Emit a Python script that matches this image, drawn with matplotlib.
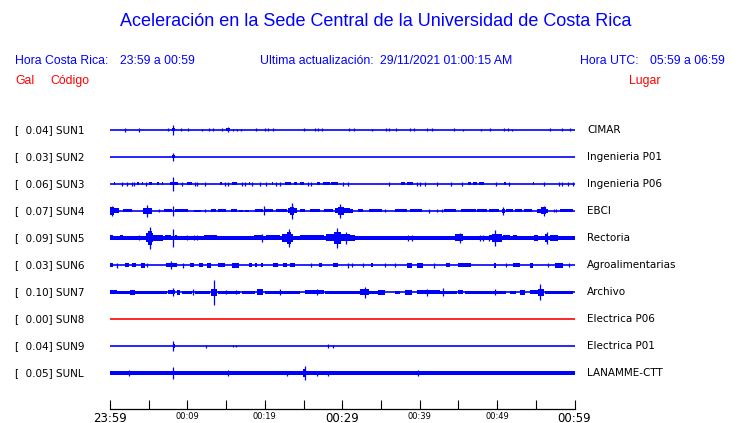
import matplotlib.pyplot as plt
from matplotlib.transforms import blended_transform_factory

# station info
codes = ['SUN1', 'SUN2', 'SUN3', 'SUN4', 'SUN5', 'SUN6', 'SUN7', 'SUN8', 'SUN9', 'SUNL']
peaks = [0.04, 0.03, 0.06, 0.07, 0.09, 0.03, 0.10, 0.00, 0.04, 0.05]
places = ['CIMAR', 'Ingenieria P01', 'Ingenieria P06', 'EBCI', 'Rectoria', 'Agroalimentarias',
          'Archivo', 'Electrica P06', 'Electrica P01', 'LANAMME-CTT']
# half thickness of the background noise band (pixels)
noise = [0.0, 0.0, 0.0, 0.0, 1.7, 0.0, 0.0, 0.0, 0.0, 2.2]

time_ticks = [0, 10, 20, 30, 40, 50, 60]
time_labels = ['23:59', '00:09', '00:19', '00:29', '00:39', '00:49', '00:59']

# spikes: (minute, half amplitude px); bursts: (start min, end min, half amplitude px)
sun1_spikes = [(2.0, 2), (3.7, 2), (7.5, 1.5), (8.2, 5), (9.2, 1.5), (10.1, 1.5), (11.9, 1), (12.8, 1.5),
               (13.3, 1.5), (14.5, 1.5), (15.2, 2.5), (15.9, 1), (16.4, 1), (16.9, 1), (18.9, 1.5),
               (20.0, 1.5), (20.4, 1.5), (21.1, 1.5), (25.1, 1.5), (26.5, 1.5), (26.9, 1.5), (27.4, 1.5),
               (30.9, 1.5), (31.5, 1.5), (33.8, 1), (35.7, 1.5), (36.0, 1.5), (36.9, 1.5), (38.8, 1.5),
               (39.3, 1.5), (40.9, 1.5), (41.6, 1.5), (44.4, 1.5), (45.6, 1), (47.9, 1), (49.1, 1.5),
               (50.9, 1.5), (51.4, 1.5), (51.9, 1), (56.8, 1.5), (58.4, 1.5), (59.4, 1.5)]
sun1_bursts = [(8.0, 8.4, 1.5), (15.0, 15.5, 1.5)]

sun2_spikes = [(8.2, 4)]
sun2_bursts = [(8.05, 8.35, 1.5)]

sun3_spikes = [(1.5, 2), (2.2, 2), (2.8, 2), (3.1, 2), (4.6, 2), (8.2, 7), (9.3, 2), (11.0, 2), (11.3, 2),
               (12.3, 2), (14.9, 2), (15.2, 2), (17.1, 2), (17.5, 2), (18.4, 2), (19.4, 2), (20.1, 2),
               (21.5, 2), (22.0, 2), (25.6, 2), (25.9, 2), (30.1, 2), (30.8, 2), (36.1, 2), (39.6, 2),
               (40.0, 2), (40.7, 2), (42.3, 2), (44.0, 2), (45.5, 2), (49.9, 2), (51.6, 2), (56.1, 2),
               (58.0, 2), (58.4, 2), (59.1, 2), (59.8, 2)]
sun3_bursts = [(0.5, 0.7, 1.5), (3.5, 3.7, 1.5), (4.1, 4.3, 1.5), (5.1, 5.4, 1.5), (6.1, 6.3, 1.5),
               (6.7, 6.9, 1.5), (7.8, 8.8, 1.5), (10.0, 10.6, 1.5), (14.2, 14.5, 1.5), (15.7, 16.4, 1.5),
               (17.9, 18.1, 1.5), (20.9, 21.1, 1.5), (22.6, 23.4, 1.5), (23.8, 24.2, 1.5), (24.5, 25.0, 1.5),
               (26.7, 27.1, 1.5), (27.5, 28.4, 1.5), (28.6, 29.5, 1.5), (37.6, 38.1, 1.5), (38.4, 39.1, 1.5),
               (46.3, 46.6, 1.5), (46.9, 47.4, 1.5), (47.7, 48.3, 1.5), (50.9, 51.1, 1.5), (54.6, 54.8, 1.5)]

sun4_spikes = [(0.2, 5), (4.75, 6), (6.3, 1.5), (8.2, 5), (12.3, 1.5), (19.9, 4.5), (23.5, 8), (29.7, 7),
               (35.5, 1.5), (41.2, 2), (42.3, 1.5), (42.9, 1.5), (50.8, 4), (56.0, 5), (57.4, 1.5), (57.6, 1.5)]
sun4_bursts = [(0.0, 0.5, 4), (0.5, 1.1, 2.5), (1.7, 2.8, 1.5), (4.2, 5.4, 3), (7.0, 8.0, 1.5),
               (8.4, 10.1, 1.5), (10.9, 11.8, 1.2), (13.0, 13.7, 1.5), (14.0, 15.0, 1.5), (15.6, 16.4, 1.5),
               (16.7, 17.2, 1.2), (17.5, 18.0, 1.2), (18.7, 19.8, 1.5), (20.0, 21.1, 1.5), (21.5, 22.8, 1.5),
               (23.0, 24.1, 2.5), (23.3, 23.8, 4), (24.5, 25.2, 1.5), (25.8, 27.1, 1.5), (27.6, 28.8, 1.5),
               (29.1, 31.0, 2.5), (29.4, 30.2, 4), (31.0, 31.4, 2), (32.0, 32.7, 1.5), (33.5, 35.1, 1.5),
               (36.8, 38.3, 1.5), (38.8, 40.3, 1.5), (43.2, 44.7, 1.5), (45.3, 47.3, 1.5), (47.4, 48.7, 1.5),
               (48.9, 50.2, 1.5), (50.6, 51.0, 2), (51.2, 52.1, 1.5), (52.3, 53.2, 1.5), (53.5, 54.5, 1.5),
               (55.1, 56.6, 2), (55.7, 56.3, 3.5), (58.1, 59.8, 1.5)]

sun5_spikes = [(3.8, 2.5), (5.2, 10.5), (8.2, 8.7), (9.9, 2.5), (10.9, 2.5), (11.3, 2.5), (19.6, 4),
               (23.1, 9), (29.3, 10), (30.5, 6), (38.5, 3), (39.0, 3), (45.2, 5), (47.8, 3), (48.2, 3),
               (49.0, 3), (49.7, 8), (56.4, 6)]
sun5_bursts = [(0.0, 0.4, 2.5), (1.3, 1.7, 2.5), (4.7, 5.6, 4.5), (4.9, 5.4, 7), (5.6, 6.9, 3), (7.1, 7.9, 2.5),
               (8.4, 8.7, 2.5), (12.1, 13.8, 2.5), (18.6, 19.8, 2.5), (20.2, 22.0, 2.5), (22.2, 23.7, 4),
               (22.8, 23.4, 6), (24.5, 27.6, 2.5), (27.9, 31.0, 3.5), (28.9, 29.8, 6), (31.0, 31.6, 3),
               (44.6, 45.6, 3.5), (48.9, 49.3, 2.5), (49.4, 50.6, 4), (50.8, 51.7, 2.5), (52.1, 52.6, 2.5),
               (54.8, 55.3, 3), (56.2, 56.6, 4), (56.8, 57.9, 3), (57.9, 60.0, 2.3)]

sun6_spikes = [(0.9, 2.5), (4.8, 2), (7.9, 4), (9.4, 2.5), (25.9, 2), (30.8, 2.5), (31.2, 2), (32.7, 2),
               (35.5, 2), (36.8, 2), (41.8, 2.5), (51.2, 2), (56.6, 2), (59.3, 2)]
sun6_bursts = [(0.0, 0.4, 2), (1.9, 2.4, 2), (2.8, 3.4, 2), (4.0, 4.5, 2.5), (7.2, 8.6, 2), (10.3, 10.8, 2),
               (11.5, 12.0, 2), (12.5, 13.1, 2.5), (13.9, 14.9, 2), (15.8, 16.6, 2.5), (17.9, 18.3, 2),
               (18.7, 19.0, 2), (19.5, 19.8, 2), (21.1, 21.7, 2), (22.3, 22.8, 2), (23.3, 23.9, 2),
               (27.0, 27.4, 2), (28.8, 29.4, 2), (33.7, 34.0, 2), (38.3, 39.0, 2.5), (39.7, 40.4, 2.5),
               (43.4, 43.9, 2), (44.9, 45.4, 2), (45.4, 46.6, 2), (49.6, 49.9, 2.5), (52.1, 53.0, 2),
               (54.3, 54.7, 2.5), (57.5, 58.5, 2.5)]

sun7_spikes = [(8.2, 4), (10.7, 3), (13.4, 12.5), (15.0, 2), (16.3, 2), (22.0, 3), (26.7, 3), (32.9, 5.5),
               (41.0, 3.5), (43.0, 4), (49.7, 3), (55.5, 8)]
sun7_bursts = [(0.0, 0.9, 2), (0.9, 2.6, 1.5), (2.6, 3.2, 2.5), (3.2, 7.3, 1.5), (7.5, 8.4, 2), (8.7, 9.0, 2.5),
               (9.3, 10.6, 1.5), (11.0, 12.9, 1.5), (13.1, 13.8, 3.5), (14.0, 16.8, 1.5), (17.0, 18.7, 1.5),
               (19.0, 19.8, 3), (20.0, 24.5, 1.5), (25.2, 27.6, 2), (27.8, 32.3, 1.5), (32.3, 33.4, 3),
               (33.4, 34.6, 1.5), (34.6, 35.5, 2.5), (36.8, 37.5, 1.5), (38.1, 39.0, 2.5), (39.6, 42.6, 2),
               (42.6, 44.8, 1.5), (45.0, 45.6, 2), (45.9, 51.2, 1.5), (51.7, 52.5, 1.5), (53.0, 53.6, 2.5),
               (54.3, 55.3, 2), (55.3, 56.0, 3.5), (56.2, 59.8, 1.5)]

sun8_spikes = []
sun8_bursts = []

sun9_spikes = [(8.2, 5), (12.4, 1.5), (15.9, 1), (16.3, 1), (28.2, 2), (28.8, 1.5)]
sun9_bursts = [(8.1, 8.35, 2), (28.1, 28.3, 1.5)]

sunl_spikes = [(2.4, 3), (8.2, 5.7), (15.3, 3), (22.8, 2.5), (25.2, 7), (26.7, 2.5), (28.2, 2.5), (39.8, 3)]
sunl_bursts = [(24.9, 25.3, 4)]

all_spikes = [sun1_spikes, sun2_spikes, sun3_spikes, sun4_spikes, sun5_spikes,
              sun6_spikes, sun7_spikes, sun8_spikes, sun9_spikes, sunl_spikes]
all_bursts = [sun1_bursts, sun2_bursts, sun3_bursts, sun4_bursts, sun5_bursts,
              sun6_bursts, sun7_bursts, sun8_bursts, sun9_bursts, sunl_bursts]

BLUE = '#0000ff'
RED = '#ff0000'
W, H = 740, 423
PX = 1 / 27.0  # one pixel in trace units (traces are 27 px apart)

fig = plt.figure(figsize=(W / 100, H / 100), dpi=100)

ax = fig.add_axes([110 / W, 1 - 386.5 / H, 464.5 / W, 270 / H])
ax.set_xlim(0, 60)
ax.set_ylim(len(codes) - 0.5, -0.5)
ax.axis('off')

for i in range(len(codes)):
    col = RED if peaks[i] == 0 else BLUE
    ax.hlines(i, 0, 60, color=col, lw=1.2)
    if noise[i] > 0:
        ax.bar(0, 2 * noise[i] * PX, width=60, bottom=i - noise[i] * PX, align='edge', color=col, lw=0)
    for t0, t1, a in all_bursts[i]:
        ax.bar(t0, 2 * a * PX, width=t1 - t0, bottom=i - a * PX, align='edge', color=col, lw=0)
    if all_spikes[i]:
        ts = [s[0] for s in all_spikes[i]]
        amps = [s[1] * PX for s in all_spikes[i]]
        ax.vlines(ts, [i - a for a in amps], [i + a for a in amps], color=col, lw=0.9)

# station labels
trans = blended_transform_factory(fig.transFigure, ax.transData)
for i in range(len(codes)):
    ax.text(15 / W, i, f'[{peaks[i]:6.2f}] {codes[i]}', transform=trans, ha='left', va='center',
            fontsize=7.5, color='black', family='DejaVu Sans')
    ax.text(587 / W, i, places[i], transform=trans, ha='left', va='center',
            fontsize=7.5, color='black', family='DejaVu Sans')

# time axis
tax = fig.add_axes([110 / W, 1 - 409 / H, 464.5 / W, 0.0001])
tax.set_xlim(0, 60)
tax.set_yticks([])
for s in ['left', 'right', 'top']:
    tax.spines[s].set_visible(False)
tax.spines['bottom'].set_linewidth(0.9)
tax.set_xticks(time_ticks)
tax.set_xticks([5, 15, 25, 35, 45, 55], minor=True)
tax.set_xticklabels(time_labels)
tax.tick_params(axis='x', which='both', direction='in', length=6.5, width=0.8, pad=2)
for k, lbl in enumerate(tax.get_xticklabels()):
    lbl.set_family('DejaVu Sans')
    lbl.set_fontsize(8.5 if k % 3 == 0 else 6)

# header
hf = 'Liberation Sans'
fig.text(376 / W, 1 - 22 / H, 'Aceleración en la Sede Central de la Universidad de Costa Rica',
         ha='center', va='center', fontsize=13, color=BLUE, family=hf)
hy = 1 - 61 / H
fig.text(15 / W, hy, 'Hora Costa Rica:', ha='left', va='center', fontsize=8.8, color=BLUE, family=hf)
fig.text(120 / W, hy, '23:59 a 00:59', ha='left', va='center', fontsize=8.8, color=BLUE, family=hf)
fig.text(260 / W, hy, 'Ultima actualización:', ha='left', va='center', fontsize=8.8, color=BLUE, family=hf)
fig.text(380 / W, hy, '29/11/2021 01:00:15 AM', ha='left', va='center', fontsize=8.8, color=BLUE, family=hf)
fig.text(580 / W, hy, 'Hora UTC:', ha='left', va='center', fontsize=8.8, color=BLUE, family=hf)
fig.text(650 / W, hy, '05:59 a 06:59', ha='left', va='center', fontsize=8.8, color=BLUE, family=hf)
ry = 1 - 81 / H
fig.text(15 / W, ry, 'Gal', ha='left', va='center', fontsize=8.8, color=RED, family=hf)
fig.text(50 / W, ry, 'Código', ha='left', va='center', fontsize=8.8, color=RED, family=hf)
fig.text(629 / W, ry, 'Lugar', ha='left', va='center', fontsize=8.8, color=RED, family=hf)

fig.savefig('out.png', dpi=100)
